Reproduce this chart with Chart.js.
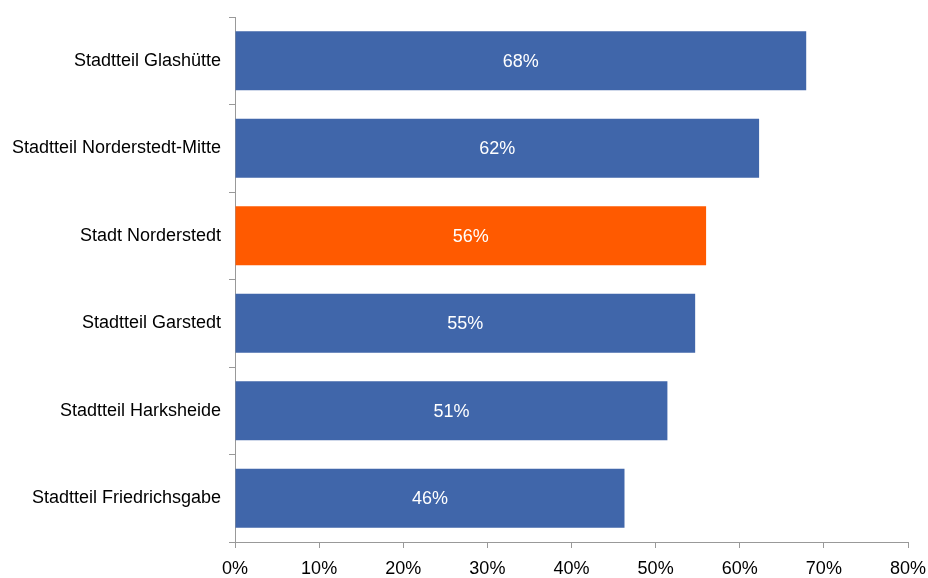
<!DOCTYPE html>
<html>
<head>
<meta charset="utf-8">
<script src="https://cdn.jsdelivr.net/npm/chart.js@4"></script>
<style>
html,body{margin:0;padding:0;background:#fff;}
#wrap{width:928px;height:578px;position:relative;}
</style>
</head>
<body>
<div id="wrap"><canvas id="c" width="928" height="578"></canvas></div>
<script>
const categories = ["Stadtteil Glashütte","Stadtteil Norderstedt-Mitte","Stadt Norderstedt","Stadtteil Garstedt","Stadtteil Harksheide","Stadtteil Friedrichsgabe"];
const values = [67.9, 62.3, 56.0, 54.7, 51.4, 46.3];
const highlight = "Stadt Norderstedt";
const xTicks = [0,10,20,30,40,50,60,70,80];

const colors = categories.map(c => c === highlight ? "#FF5A00" : "#4066AA");
const FONT = "'Liberation Sans', Arial, sans-serif";

const labelPlugin = {
  id: "barLabels",
  afterDatasetsDraw(chart) {
    const ctx = chart.ctx;
    const meta = chart.getDatasetMeta(0);
    ctx.save();
    ctx.fillStyle = "#ffffff";
    ctx.font = "18px " + FONT;
    ctx.textAlign = "center";
    ctx.textBaseline = "middle";
    meta.data.forEach((bar, i) => {
      const x = (bar.x + bar.base) / 2;
      ctx.fillText(Math.round(values[i]) + "%", x, bar.y + 1);
    });
    ctx.restore();
  }
};

new Chart(document.getElementById("c"), {
  type: "bar",
  data: {
    labels: categories,
    datasets: [{
      data: values,
      backgroundColor: colors,
      borderWidth: 0,
      categoryPercentage: 1.0,
      barPercentage: 0.675
    }]
  },
  options: {
    indexAxis: "y",
    responsive: false,
    animation: false,
    layout: { padding: { top: 17, right: 20, left: 0, bottom: 0 } },
    plugins: { legend: { display: false }, tooltip: { enabled: false } },
    scales: {
      x: {
        min: 0, max: 80,
        afterBuildTicks(axis) { axis.ticks = xTicks.map(v => ({ value: v })); },
        afterFit(axis) { axis.height = 36; axis.paddingLeft = 0; axis.paddingRight = 0; },
        border: { color: "#999999", width: 1 },
        grid: { drawOnChartArea: false, drawTicks: true, tickLength: 6, color: "#999999" },
        ticks: {
          color: "#000000",
          font: { family: FONT, size: 18 },
          padding: 10,
          maxRotation: 0,
          callback: v => v + "%"
        }
      },
      y: {
        afterFit(axis) { axis.width = 235; axis.paddingTop = 0; axis.paddingBottom = 0; },
        border: { color: "#999999", width: 1 },
        grid: { offset: true, drawOnChartArea: false, drawTicks: true, tickLength: 6, color: "#999999" },
        ticks: {
          color: "#000000",
          font: { family: FONT, size: 18 },
          padding: 8
        }
      }
    }
  },
  plugins: [labelPlugin]
});
</script>
</body>
</html>
